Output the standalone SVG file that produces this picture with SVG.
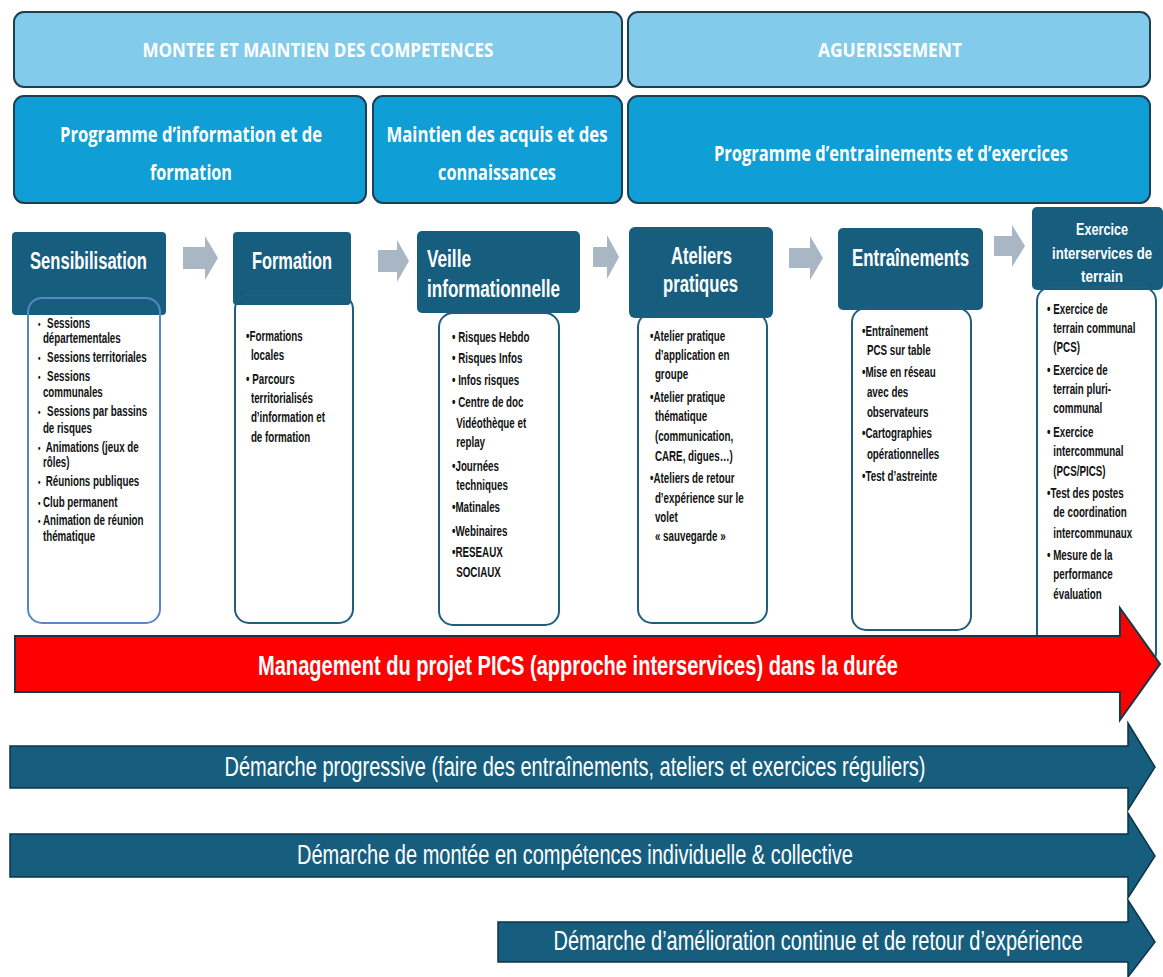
<svg xmlns="http://www.w3.org/2000/svg" width="1163" height="977" viewBox="0 0 1163 977">
<defs>
<style>
.top{fill:#83cbeb;stroke:#1c3f52;stroke-width:2}
.mid{fill:#0f9ed5;stroke:#1c3f52;stroke-width:2}
.hdr{fill:#175e7e}
.card{fill:#ffffff}
.cardo{fill:none;stroke:#1f5f7d;stroke-width:2}
.cardb{fill:none;stroke:#5a86c8;stroke-width:2}
.ttop{font-family:"Open Sans",Lato,sans-serif;font-weight:bold;fill:#ffffff;text-anchor:middle}
.th{font-family:"Liberation Sans",Arial,sans-serif;font-weight:bold;fill:#ffffff}
.tc{font-family:"Liberation Sans",Arial,sans-serif;font-weight:bold;font-size:14px;fill:#111111}
.dot{font-size:10px}
.gray{fill:#a9b6c3}
.big{fill:#175e7e;stroke:#0c3447;stroke-width:1.5}
.red{fill:#ff0000;stroke:#12384a;stroke-width:2}
.tb{font-family:"Liberation Sans",Arial,sans-serif;fill:#ffffff;text-anchor:middle;font-size:27px}
</style>
</defs>
<rect width="1163" height="977" fill="#ffffff"/>

<g id="montee">
<rect class="top" x="14" y="12" width="608" height="75" rx="10"/>
<text class="ttop" x="318" y="57" font-size="19" textLength="351" lengthAdjust="spacingAndGlyphs">MONTEE ET MAINTIEN DES COMPETENCES</text>
</g>
<g id="aguerissement">
<rect class="top" x="628" y="12" width="522" height="75" rx="10"/>
<text class="ttop" x="890" y="57" font-size="19" textLength="144" lengthAdjust="spacingAndGlyphs">AGUERISSEMENT</text>
</g>
<g id="prog-info">
<rect class="mid" x="14" y="96" width="352" height="107" rx="10"/>
<text class="ttop" x="191" y="142" font-size="21" textLength="262" lengthAdjust="spacingAndGlyphs">Programme d’information et de</text>
<text class="ttop" x="191" y="180" font-size="21" textLength="82" lengthAdjust="spacingAndGlyphs">formation</text>
</g>
<g id="maintien">
<rect class="mid" x="373" y="96" width="249" height="107" rx="10"/>
<text class="ttop" x="497" y="142" font-size="21" textLength="221" lengthAdjust="spacingAndGlyphs">Maintien des acquis et des</text>
<text class="ttop" x="497" y="180" font-size="21" textLength="118" lengthAdjust="spacingAndGlyphs">connaissances</text>
</g>
<g id="prog-entr">
<rect class="mid" x="628" y="96" width="522" height="107" rx="10"/>
<text class="ttop" x="891" y="161" font-size="21" textLength="354" lengthAdjust="spacingAndGlyphs">Programme d’entrainements et d’exercices</text>
</g>

<g id="sensibilisation">
<rect class="card" x="28" y="298" width="132" height="325" rx="14"/>
<rect class="hdr" x="12" y="232" width="154" height="83" rx="4"/>
<rect class="cardb" x="28" y="298" width="132" height="325" rx="14"/>
<text class="th" x="30" y="269" font-size="24" textLength="117" lengthAdjust="spacingAndGlyphs">Sensibilisation</text>
<g transform="translate(38 0) scale(0.7 1)">
<text class="tc"><tspan class="dot" x="0" y="328">•</tspan><tspan x="13" y="328">Sessions</tspan>
<tspan x="7" y="343">départementales</tspan>
<tspan class="dot" x="0" y="362">•</tspan><tspan x="13" y="362">Sessions territoriales</tspan>
<tspan class="dot" x="0" y="381">•</tspan><tspan x="13" y="381">Sessions</tspan>
<tspan x="7" y="397">communales</tspan>
<tspan class="dot" x="0" y="416">•</tspan><tspan x="13" y="416">Sessions par bassins</tspan>
<tspan x="7" y="433">de risques</tspan>
<tspan class="dot" x="0" y="452">•</tspan><tspan x="11" y="452">Animations (jeux de</tspan>
<tspan x="7" y="467">rôles)</tspan>
<tspan class="dot" x="0" y="486">•</tspan><tspan x="11" y="486">Réunions publiques</tspan>
<tspan class="dot" x="0" y="507">•</tspan><tspan x="7" y="507">Club permanent</tspan>
<tspan class="dot" x="0" y="525">•</tspan><tspan x="7" y="525">Animation de réunion</tspan>
<tspan x="7" y="541">thématique</tspan></text>
</g>
</g>

<g id="formation">
<rect class="card" x="235" y="295" width="118" height="328" rx="14"/>
<rect class="hdr" x="233" y="232" width="118" height="73" rx="4"/>
<rect class="cardo" x="235" y="295" width="118" height="328" rx="14"/>
<text class="th" x="252" y="269" font-size="24" textLength="80" lengthAdjust="spacingAndGlyphs">Formation</text>
<g transform="translate(246 0) scale(0.7 1)">
<text class="tc"><tspan x="0" y="341">•Formations</tspan>
<tspan x="7" y="360">locales</tspan>
<tspan x="0" y="384">• Parcours</tspan>
<tspan x="7" y="403">territorialisés</tspan>
<tspan x="7" y="422">d’information et</tspan>
<tspan x="7" y="442">de formation</tspan></text>
</g>
</g>

<g id="veille">
<rect class="card" x="439" y="313" width="120" height="312" rx="14"/>
<rect class="hdr" x="417" y="231" width="163" height="82" rx="5"/>
<rect class="cardo" x="439" y="313" width="120" height="312" rx="14"/>
<text class="th" x="427" y="267" font-size="24" textLength="44" lengthAdjust="spacingAndGlyphs">Veille</text>
<text class="th" x="427" y="297" font-size="24" textLength="133" lengthAdjust="spacingAndGlyphs">informationnelle</text>
<g transform="translate(452 0) scale(0.7 1)">
<text class="tc"><tspan x="0" y="342">• Risques Hebdo</tspan>
<tspan x="0" y="363">• Risques Infos</tspan>
<tspan x="0" y="385">• Infos risques</tspan>
<tspan x="0" y="407">• Centre de doc</tspan>
<tspan x="6" y="428">Vidéothèque et</tspan>
<tspan x="6" y="447">replay</tspan>
<tspan x="0" y="471">•Journées</tspan>
<tspan x="6" y="490">techniques</tspan>
<tspan x="0" y="512">•Matinales</tspan>
<tspan x="0" y="536">•Webinaires</tspan>
<tspan x="0" y="557">•RESEAUX</tspan>
<tspan x="6" y="577">SOCIAUX</tspan></text>
</g>
</g>

<g id="ateliers">
<rect class="card" x="638" y="313" width="129" height="310" rx="14"/>
<rect class="hdr" x="629" y="227" width="144" height="91" rx="6"/>
<rect class="cardo" x="638" y="313" width="129" height="310" rx="14"/>
<text class="th" x="671" y="264" font-size="24" textLength="61" lengthAdjust="spacingAndGlyphs">Ateliers</text>
<text class="th" x="663" y="292" font-size="24" textLength="75" lengthAdjust="spacingAndGlyphs">pratiques</text>
<g transform="translate(650 0) scale(0.7 1)">
<text class="tc"><tspan x="0" y="341">•Atelier pratique</tspan>
<tspan x="7" y="360">d’application en</tspan>
<tspan x="7" y="379">groupe</tspan>
<tspan x="0" y="402">•Atelier  pratique</tspan>
<tspan x="7" y="421">thématique</tspan>
<tspan x="7" y="441">(communication,</tspan>
<tspan x="7" y="461">CARE, digues…)</tspan>
<tspan x="0" y="483">•Ateliers de retour</tspan>
<tspan x="7" y="503">d’expérience sur le</tspan>
<tspan x="7" y="522">volet</tspan>
<tspan x="7" y="541">« sauvegarde »</tspan></text>
</g>
</g>

<g id="entrainements">
<rect class="card" x="852" y="308" width="119" height="322" rx="14"/>
<rect class="hdr" x="838" y="228" width="145" height="82" rx="5"/>
<rect class="cardo" x="852" y="308" width="119" height="322" rx="14"/>
<text class="th" x="852" y="266" font-size="24" textLength="117" lengthAdjust="spacingAndGlyphs">Entraînements</text>
<g transform="translate(862 0) scale(0.7 1)">
<text class="tc"><tspan x="0" y="336">•Entraînement</tspan>
<tspan x="7" y="355">PCS sur table</tspan>
<tspan x="0" y="377">•Mise en réseau</tspan>
<tspan x="7" y="397">avec des</tspan>
<tspan x="7" y="417">observateurs</tspan>
<tspan x="0" y="438">•Cartographies</tspan>
<tspan x="7" y="459">opérationnelles</tspan>
<tspan x="0" y="481">•Test d’astreinte</tspan></text>
</g>
</g>

<g id="exercice">
<rect class="card" x="1037" y="287" width="119" height="380" rx="14"/>
<rect class="hdr" x="1032" y="207" width="131" height="83" rx="5"/>
<rect class="cardo" x="1037" y="287" width="119" height="380" rx="14"/>
<text class="th" x="1076" y="235" font-size="17" textLength="52" lengthAdjust="spacingAndGlyphs">Exercice</text>
<text class="th" x="1052" y="259" font-size="17" textLength="100" lengthAdjust="spacingAndGlyphs">interservices de</text>
<text class="th" x="1081" y="282" font-size="17" textLength="42" lengthAdjust="spacingAndGlyphs">terrain</text>
<g transform="translate(1047 0) scale(0.7 1)">
<text class="tc"><tspan x="0" y="314">• Exercice de</tspan>
<tspan x="9" y="333">terrain communal</tspan>
<tspan x="9" y="352">(PCS)</tspan>
<tspan x="0" y="375">• Exercice de</tspan>
<tspan x="9" y="394">terrain pluri-</tspan>
<tspan x="9" y="413">communal</tspan>
<tspan x="0" y="437">• Exercice</tspan>
<tspan x="9" y="456">intercommunal</tspan>
<tspan x="9" y="476">(PCS/PICS)</tspan>
<tspan x="0" y="498">•Test des postes</tspan>
<tspan x="9" y="517">de coordination</tspan>
<tspan x="9" y="538">intercommunaux</tspan>
<tspan x="0" y="560">• Mesure de la</tspan>
<tspan x="9" y="579">performance</tspan>
<tspan x="9" y="599">évaluation</tspan></text>
</g>
</g>

<g id="connectors">
<path class="gray" d="M183 247 L205 247 L205 236 L218 258 L205 280 L205 269 L183 269 Z"/>
<path class="gray" d="M378 250 L397 250 L397 240 L409 261 L397 282 L397 272 L378 272 Z"/>
<path class="gray" d="M593 247 L607 247 L607 235 L619 257 L607 279 L607 267 L593 267 Z"/>
<path class="gray" d="M789 248 L810 248 L810 236 L823 258 L810 280 L810 268 L789 268 Z"/>
<path class="gray" d="M994 236 L1012 236 L1012 225 L1025 246 L1012 267 L1012 256 L994 256 Z"/>
</g>

<g id="management">
<path class="red" d="M15 636 L1120 636 L1120 608 L1160 664 L1120 720 L1120 692 L15 692 Z"/>
<text class="tb" x="578" y="675" font-size="29" font-weight="bold" textLength="640" lengthAdjust="spacingAndGlyphs">Management du projet PICS (approche interservices) dans la durée</text>
</g>
<g id="progressive">
<path class="big" d="M10 746 L1128 746 L1128 723 L1155 767 L1128 810 L1128 788 L10 788 Z"/>
<text class="tb" x="575" y="776" textLength="701" lengthAdjust="spacingAndGlyphs">Démarche progressive (faire des entraînements, ateliers et exercices réguliers)</text>
</g>
<g id="montee-competences">
<path class="big" d="M10 834 L1128 834 L1128 813 L1155 856 L1128 898 L1128 877 L10 877 Z"/>
<text class="tb" x="575" y="864" textLength="556" lengthAdjust="spacingAndGlyphs">Démarche de montée en compétences individuelle &amp; collective</text>
</g>
<g id="amelioration">
<path class="big" d="M498 922 L1128 922 L1128 900 L1155 942 L1128 977 L1128 962 L498 962 Z"/>
<text class="tb" x="818" y="950" textLength="529" lengthAdjust="spacingAndGlyphs">Démarche d’amélioration continue et de retour d’expérience</text>
</g>
</svg>
